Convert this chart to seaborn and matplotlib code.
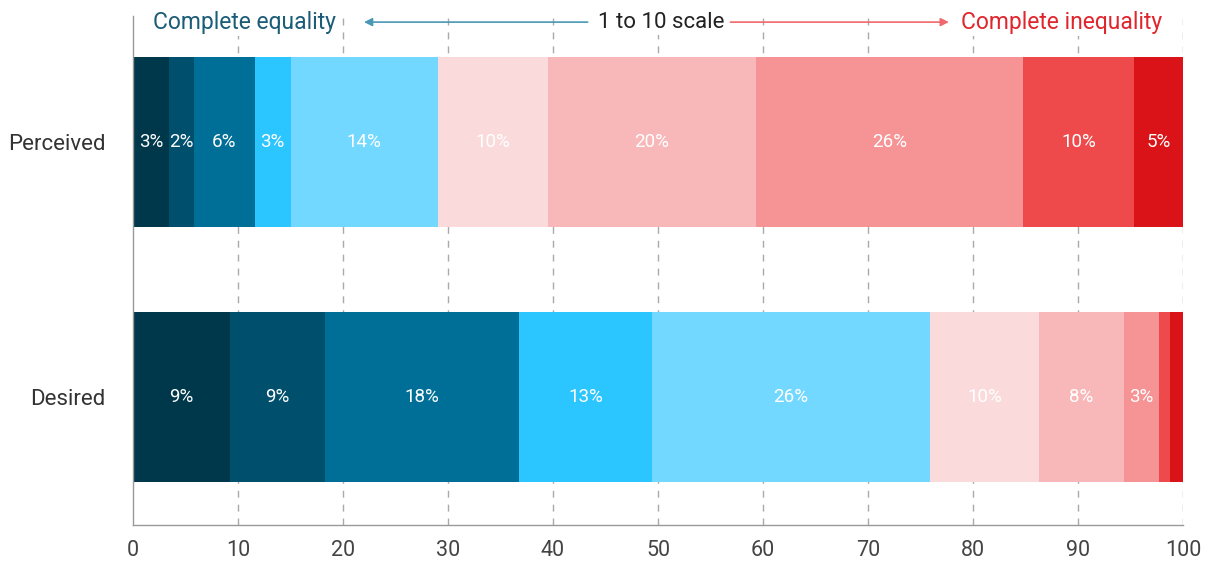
import numpy as np
import pandas as pd
import matplotlib
matplotlib.use("Agg")
import matplotlib.pyplot as plt
import seaborn as sns

# Share of respondents at each point of the 1-10 scale (percent)
groups = ["Perceived", "Desired"]
perceived = [3.4, 2.4, 5.8, 3.4, 14.0, 10.5, 19.8, 25.5, 10.5, 4.7]
desired = [9.2, 9.1, 18.5, 12.6, 26.5, 10.4, 8.1, 3.3, 1.1, 1.2]
scale_colors = ["#00384B", "#00506D", "#006F98", "#2BC5FF", "#72D8FF",
                "#FADADA", "#F8B8B9", "#F69394", "#EF4A4B", "#D91317"]
x_ticks = [0, 10, 20, 30, 40, 50, 60, 70, 80, 90, 100]

sns.set_theme(style="white")
plt.rcParams["font.family"] = ["Roboto", "DejaVu Sans"]

fig = plt.figure(figsize=(12.08, 5.65), dpi=100)
ax = fig.add_axes([133 / 1208, 1 - 525 / 565, 1050 / 1208, 509 / 565])

values = np.array([perceived, desired])
cum = values.cumsum(axis=1)

# Stacked bars: draw cumulative totals from the last segment to the first
for k in range(len(scale_colors) - 1, -1, -1):
    df = pd.DataFrame({"group": groups, "total": cum[:, k]})
    sns.barplot(data=df, x="total", y="group", orient="h", color=scale_colors[k],
                saturation=1, width=0.667, linewidth=0, ax=ax, zorder=2)

# Percentage labels inside the segments
for gi, row in enumerate(values):
    left = 0.0
    for v in row:
        if v >= 2:
            ax.text(left + v / 2, gi, f"{round(v)}%", ha="center", va="center",
                    color="white", fontsize=13.5, zorder=5)
        left += v

ax.set_xlim(0, 100)
ax.set_ylim(1.5, -0.494)
ax.set_xticks(x_ticks)
ax.set_xticklabels([str(t) for t in x_ticks])
ax.set_xlabel("")
ax.set_ylabel("")
ax.tick_params(axis="x", length=0, pad=11, labelsize=15.5, labelcolor="#444444")
ax.tick_params(axis="y", length=0, pad=20, labelsize=16, labelcolor="#333333")

# Dashed vertical gridlines
for t in x_ticks[1:]:
    ax.axvline(t, color="#AAAAAA", linestyle=(0, (5, 5)), linewidth=1, zorder=0)

for side in ["top", "right"]:
    ax.spines[side].set_visible(False)
for side in ["left", "bottom"]:
    ax.spines[side].set_color("#999999")
    ax.spines[side].set_linewidth(1)

# Scale header with arrows
hy = 0.988
trans = ax.get_xaxis_transform()
box = dict(facecolor="white", edgecolor="none", pad=2)
ax.text(1.9, hy, "Complete equality", transform=trans, ha="left", va="center",
        color="#1B5C77", fontsize=16.5, bbox=box, zorder=6)
ax.text(50.3, hy, "1 to 10 scale", transform=trans, ha="center", va="center",
        color="#222222", fontsize=16, bbox=box, zorder=6)
ax.text(98.0, hy, "Complete inequality", transform=trans, ha="right", va="center",
        color="#E0262C", fontsize=16.5, bbox=box, zorder=6)
ax.annotate("", xy=(22.0, hy), xytext=(43.3, hy), xycoords=trans, textcoords=trans,
            arrowprops=dict(arrowstyle="-|>", color="#4A98B5", lw=1.2,
                            mutation_scale=12, shrinkA=0, shrinkB=0), zorder=6)
ax.annotate("", xy=(77.7, hy), xytext=(56.9, hy), xycoords=trans, textcoords=trans,
            arrowprops=dict(arrowstyle="-|>", color="#F0686B", lw=1.2,
                            mutation_scale=12, shrinkA=0, shrinkB=0), zorder=6)

fig.savefig("out.png", dpi=100)
